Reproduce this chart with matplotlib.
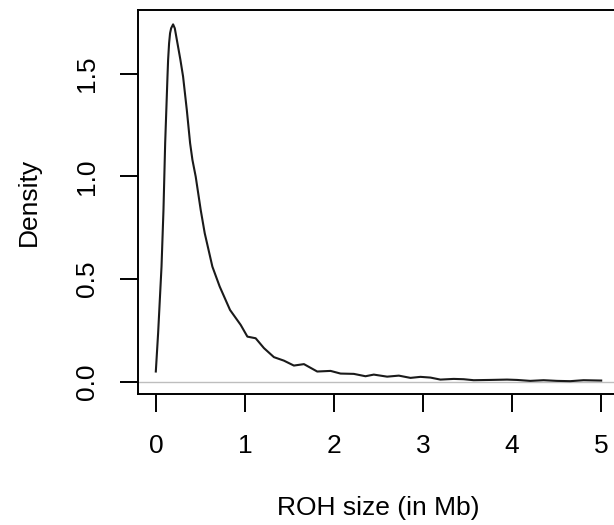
import matplotlib
matplotlib.use("Agg")
import matplotlib.pyplot as plt

# density curve of ROH sizes
roh_size = [0.0, 0.026, 0.064, 0.086, 0.105, 0.131, 0.138, 0.149, 0.16, 0.172,
            0.194, 0.213, 0.243, 0.275, 0.306, 0.348, 0.385, 0.411, 0.448, 0.504,
            0.549, 0.635, 0.717, 0.833, 0.953, 1.028, 1.121, 1.214, 1.326, 1.438,
            1.55, 1.663, 1.812, 1.962, 2.074, 2.223, 2.354, 2.447, 2.597, 2.728,
            2.859, 2.971, 3.083, 3.195, 3.344, 3.456, 3.568, 3.756, 3.943, 4.055,
            4.204, 4.353, 4.503, 4.652, 4.802, 5.0]
density = [0.049, 0.237, 0.56, 0.836, 1.161, 1.486, 1.567, 1.648, 1.697, 1.721,
           1.74, 1.721, 1.648, 1.57, 1.486, 1.323, 1.161, 1.08, 0.998, 0.836,
           0.723, 0.56, 0.463, 0.349, 0.276, 0.219, 0.211, 0.163, 0.119, 0.102,
           0.078, 0.085, 0.049, 0.052, 0.039, 0.0375, 0.026, 0.034, 0.024, 0.029,
           0.018, 0.023, 0.0195, 0.0097, 0.013, 0.0115, 0.0067, 0.008, 0.0097, 0.008,
           0.0034, 0.0067, 0.0034, 0.002, 0.0067, 0.005]

x_ticks = [0, 1, 2, 3, 4, 5]
y_ticks = [0.0, 0.5, 1.0, 1.5]

plt.rcParams["font.family"] = ["Liberation Sans", "DejaVu Sans"]

W, H = 614, 525
fig = plt.figure(figsize=(W / 100, H / 100), dpi=100)
ax = fig.add_axes([138 / W, 1 - 394 / H, (619 - 138) / W, (394 - 10) / H])

ax.axhline(0, color="#bebebe", lw=1.0, zorder=1)
ax.plot(roh_size, density, color="#1a1a1a", lw=1.5, zorder=2,
        solid_joinstyle="round")

ax.set_xlim(-0.2, 5.2)
ax.set_ylim(-0.0605, 1.81)
ax.set_xticks(x_ticks)
ax.set_xticklabels([str(t) for t in x_ticks])
ax.set_yticks(y_ticks)
ax.set_yticklabels([f"{t:.1f}" for t in y_ticks])

for sp in ax.spines.values():
    sp.set_linewidth(1.4)
    sp.set_color("black")

ax.tick_params(axis="both", direction="out", length=13, width=1.4,
               labelsize=19, colors="black")
ax.tick_params(axis="x", pad=16)
ax.tick_params(axis="y", pad=15, labelrotation=90)
for lab in ax.get_yticklabels():
    lab.set_va("center")

fig.text(378 / W, 1 - 508 / H, "ROH size (in Mb)", ha="center", va="center",
         fontsize=19)
fig.text(29 / W, 1 - 202 / H, "Density", ha="center", va="center",
         rotation=90, fontsize=19)

fig.savefig("out.png", dpi=100)
